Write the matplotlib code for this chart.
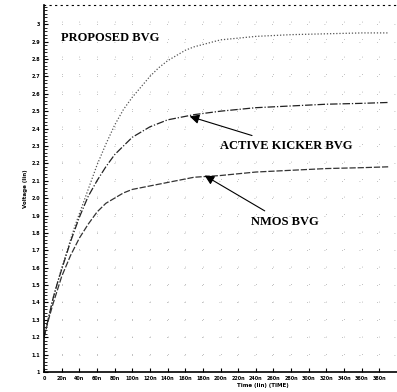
import matplotlib
matplotlib.use("Agg")
import matplotlib.pyplot as plt
import numpy as np

# time in ns, voltages in V
t_ns = [0, 5, 10, 15, 20, 25, 30, 35, 40, 50, 60, 70, 80, 90, 100, 110, 120, 130,
        140, 150, 160, 170, 185, 200, 220, 240, 280, 320, 360, 390]
v_proposed = [1.20, 1.31, 1.42, 1.51, 1.60, 1.68, 1.76, 1.84, 1.91, 2.05, 2.19, 2.31, 2.42, 2.51,
              2.58, 2.64, 2.70, 2.75, 2.79, 2.82, 2.85, 2.87, 2.89, 2.91, 2.92, 2.93, 2.94,
              2.945, 2.95, 2.95]
v_kicker = [1.20, 1.31, 1.42, 1.51, 1.59, 1.67, 1.75, 1.82, 1.89, 2.01, 2.10, 2.18, 2.25, 2.30,
            2.35, 2.38, 2.41, 2.43, 2.45, 2.46, 2.47, 2.48, 2.49, 2.50, 2.51, 2.52, 2.53,
            2.54, 2.545, 2.55]
v_nmos = [1.20, 1.30, 1.39, 1.47, 1.55, 1.61, 1.67, 1.72, 1.77, 1.85, 1.92, 1.97, 2.00, 2.03,
          2.05, 2.06, 2.07, 2.08, 2.09, 2.10, 2.11, 2.12, 2.125, 2.13, 2.14, 2.15, 2.16,
          2.17, 2.175, 2.18]

xticks = list(range(0, 400, 20))
xticklabels = ["0"] + [str(v) + "n" for v in xticks[1:]]
yticks = [round(1.0 + 0.1 * i, 1) for i in range(21)]
yticklabels = ["1"] + [str(v) for v in yticks[1:-1]] + ["3"]

fig = plt.figure(figsize=(3.97, 3.92), dpi=100)
ax = fig.add_axes([0.111, 0.051, 0.889, 0.936])

ax.plot(t_ns, v_proposed, color="#555555", lw=0.9, linestyle=(0, (1, 1.5)))
ax.plot(t_ns, v_kicker, color="#222222", lw=0.9, linestyle=(0, (6, 1.5, 1, 1.5)))
ax.plot(t_ns, v_nmos, color="#333333", lw=0.9, linestyle=(0, (5, 1.5)))

ax.set_xlim(0, 400)
ax.set_ylim(1.0, 3.11)
ax.set_xticks(xticks)
ax.set_xticklabels(xticklabels, fontsize=3.5, fontweight="bold")
ax.set_yticks(yticks)
ax.set_yticklabels(yticklabels, fontsize=3.5, fontweight="bold")
ax.set_yticks(np.arange(1.0, 3.11, 0.02), minor=True)
ax.tick_params(axis="both", which="major", direction="in", length=3, width=0.8, pad=3)
ax.tick_params(axis="y", which="minor", direction="in", length=2, width=0.6)
ax.set_xlabel("Time (lin) (TIME)", fontsize=4, fontweight="bold", labelpad=1)
ax.xaxis.set_label_coords(0.62, -0.03)
ax.set_ylabel("Voltage (lin)", fontsize=4, fontweight="bold", labelpad=2)

ax.spines["left"].set_linewidth(1.2)
ax.spines["bottom"].set_linewidth(1.2)
ax.spines["right"].set_visible(False)
ax.spines["top"].set_linestyle((0, (1, 4)))
ax.spines["top"].set_linewidth(0.8)
ax.grid(True, color="#aaaaaa", linestyle=(0, (1, 20)), linewidth=0.6)

font = dict(family="Liberation Serif", fontweight="bold", fontsize=9)
ax.text(19, 2.92, "PROPOSED BVG", va="center", **font)
ax.annotate("ACTIVE KICKER BVG", xy=(165, 2.47), xytext=(199, 2.30),
            va="center", **font,
            arrowprops=dict(arrowstyle="-|>", color="black", lw=0.8,
                            mutation_scale=14, shrinkA=4, shrinkB=0))
ax.annotate("NMOS BVG", xy=(182, 2.13), xytext=(234, 1.86),
            va="center", **font,
            arrowprops=dict(arrowstyle="-|>", color="black", lw=0.8,
                            mutation_scale=14, shrinkA=4, shrinkB=0))

fig.savefig("out.png", dpi=100)
